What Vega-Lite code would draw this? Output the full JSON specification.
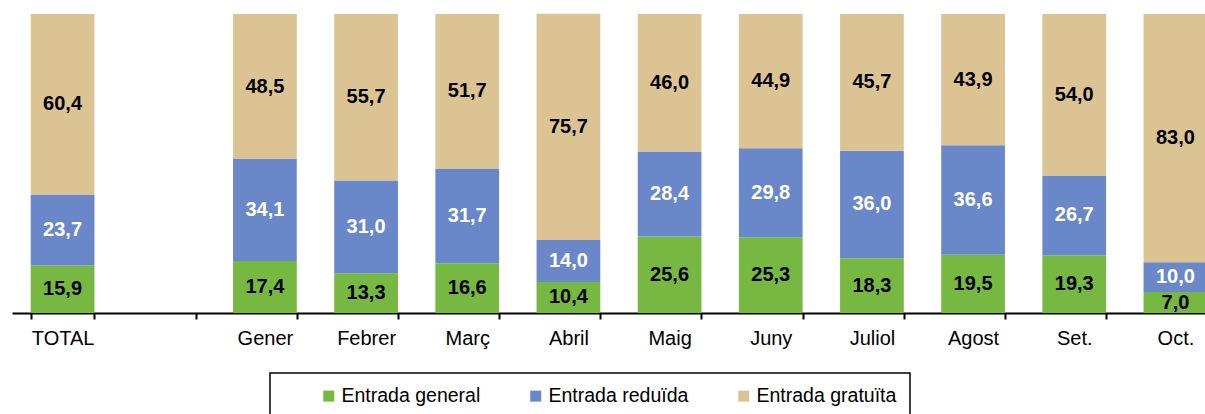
{
  "$schema": "https://vega.github.io/schema/vega-lite/v6.json",
  "width": 1193,
  "height": 299,
  "autosize": "none",
  "padding": {"left": 12, "top": 14, "right": 0, "bottom": 101},
  "background": "white",
  "config": {
    "view": {"stroke": null},
    "font": "Liberation Sans",
    "legend": {"strokeWidth": 1.5},
    "locale": {"number": {"decimal": ",", "thousands": ".", "grouping": [3], "currency": ["", " €"]}}
  },
  "data": {"values": [
    {"mes": "TOTAL", "tipo": "Entrada general", "ord": 1, "v": 15.9},
    {"mes": "TOTAL", "tipo": "Entrada reduïda", "ord": 2, "v": 23.7},
    {"mes": "TOTAL", "tipo": "Entrada gratuïta", "ord": 3, "v": 60.4},
    {"mes": "Gener", "tipo": "Entrada general", "ord": 1, "v": 17.4},
    {"mes": "Gener", "tipo": "Entrada reduïda", "ord": 2, "v": 34.1},
    {"mes": "Gener", "tipo": "Entrada gratuïta", "ord": 3, "v": 48.5},
    {"mes": "Febrer", "tipo": "Entrada general", "ord": 1, "v": 13.3},
    {"mes": "Febrer", "tipo": "Entrada reduïda", "ord": 2, "v": 31.0},
    {"mes": "Febrer", "tipo": "Entrada gratuïta", "ord": 3, "v": 55.7},
    {"mes": "Març", "tipo": "Entrada general", "ord": 1, "v": 16.6},
    {"mes": "Març", "tipo": "Entrada reduïda", "ord": 2, "v": 31.7},
    {"mes": "Març", "tipo": "Entrada gratuïta", "ord": 3, "v": 51.7},
    {"mes": "Abril", "tipo": "Entrada general", "ord": 1, "v": 10.4},
    {"mes": "Abril", "tipo": "Entrada reduïda", "ord": 2, "v": 14.0},
    {"mes": "Abril", "tipo": "Entrada gratuïta", "ord": 3, "v": 75.7},
    {"mes": "Maig", "tipo": "Entrada general", "ord": 1, "v": 25.6},
    {"mes": "Maig", "tipo": "Entrada reduïda", "ord": 2, "v": 28.4},
    {"mes": "Maig", "tipo": "Entrada gratuïta", "ord": 3, "v": 46.0},
    {"mes": "Juny", "tipo": "Entrada general", "ord": 1, "v": 25.3},
    {"mes": "Juny", "tipo": "Entrada reduïda", "ord": 2, "v": 29.8},
    {"mes": "Juny", "tipo": "Entrada gratuïta", "ord": 3, "v": 44.9},
    {"mes": "Juliol", "tipo": "Entrada general", "ord": 1, "v": 18.3},
    {"mes": "Juliol", "tipo": "Entrada reduïda", "ord": 2, "v": 36.0},
    {"mes": "Juliol", "tipo": "Entrada gratuïta", "ord": 3, "v": 45.7},
    {"mes": "Agost", "tipo": "Entrada general", "ord": 1, "v": 19.5},
    {"mes": "Agost", "tipo": "Entrada reduïda", "ord": 2, "v": 36.6},
    {"mes": "Agost", "tipo": "Entrada gratuïta", "ord": 3, "v": 43.9},
    {"mes": "Set.", "tipo": "Entrada general", "ord": 1, "v": 19.3},
    {"mes": "Set.", "tipo": "Entrada reduïda", "ord": 2, "v": 26.7},
    {"mes": "Set.", "tipo": "Entrada gratuïta", "ord": 3, "v": 54.0},
    {"mes": "Oct.", "tipo": "Entrada general", "ord": 1, "v": 7.0},
    {"mes": "Oct.", "tipo": "Entrada reduïda", "ord": 2, "v": 10.0},
    {"mes": "Oct.", "tipo": "Entrada gratuïta", "ord": 3, "v": 83.0}
  ]},
  "transform": [
    {"stack": "v", "groupby": ["mes"], "sort": [{"field": "ord", "order": "ascending"}], "as": ["y0", "y1"]},
    {"calculate": "(datum.y0 + datum.y1) / 2", "as": "ymid"}
  ],
  "encoding": {
    "x": {
      "field": "mes", "type": "nominal",
      "scale": {
        "domain": ["TOTAL", " ", "Gener", "Febrer", "Març", "Abril", "Maig", "Juny", "Juliol", "Agost", "Set.", "Oct."],
        "range": [0, 1214],
        "paddingInner": 0.37, "paddingOuter": 0.185
      },
      "axis": {
        "title": null, "labelAngle": 0, "tickBand": "extent",
        "domainColor": "black", "domainWidth": 2, "tickColor": "black", "tickWidth": 2, "tickSize": 6,
        "labelFont": "Liberation Sans", "labelFontSize": 20, "labelColor": "black", "labelPadding": 9
      }
    }
  },
  "layer": [
    {
      "mark": {"type": "bar"},
      "encoding": {
        "y": {"field": "y0", "type": "quantitative", "scale": {"domain": [0, 100]}, "axis": null},
        "y2": {"field": "y1"},
        "color": {
          "field": "tipo", "type": "nominal",
          "scale": {"domain": ["Entrada general", "Entrada reduïda", "Entrada gratuïta"], "range": ["#77B843", "#6A87C9", "#DCC393"]},
          "legend": {
            "orient": "none", "legendX": 258, "legendY": 359, "direction": "horizontal",
            "title": " ", "titleOrient": "left", "titlePadding": 36, "titleFontSize": 20,
            "strokeColor": "black", "padding": 13, "columnPadding": 45,
            "symbolType": "square", "symbolSize": 121, "symbolStrokeWidth": 0,
            "labelFont": "Liberation Sans", "labelFontSize": 19.5, "labelColor": "black", "labelOffset": 3, "labelLimit": 400
          }
        }
      }
    },
    {
      "mark": {"type": "text", "fontWeight": "bold", "fontSize": 20, "font": "Liberation Sans", "baseline": "middle"},
      "encoding": {
        "y": {"field": "ymid", "type": "quantitative", "scale": {"domain": [0, 100]}},
        "text": {"field": "v", "type": "quantitative", "format": ".1f"},
        "color": {"condition": {"test": "datum.tipo == 'Entrada reduïda'", "value": "white"}, "value": "black"}
      }
    }
  ]
}
